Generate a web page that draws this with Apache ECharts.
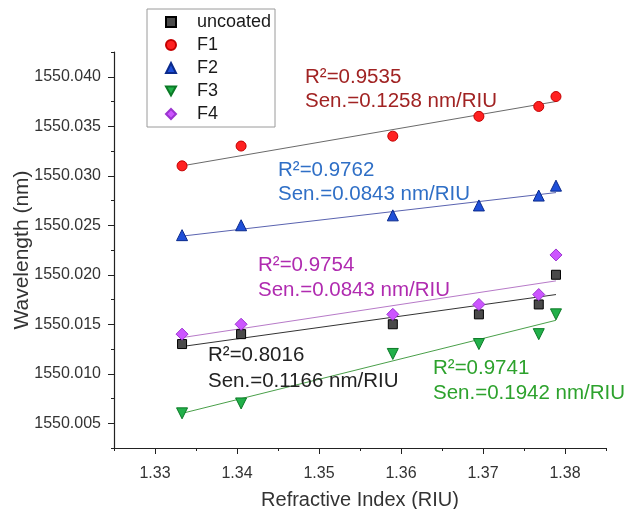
<!DOCTYPE html>
<html>
<head>
<meta charset="utf-8">
<script src="https://cdn.jsdelivr.net/npm/echarts@6/dist/echarts.min.js"></script>
<style>
  html, body { margin: 0; padding: 0; background: #fff; }
  #chart { width: 625px; height: 509px; }
</style>
</head>
<body>
<div id="chart"></div>
<script>
// refractive index of the test liquids (x)
const refIdx = [1.3333, 1.3405, 1.3590, 1.3695, 1.3768, 1.3789]

// resonance wavelength (nm)
const uncoated = [1550.013, 1550.014, 1550.015, 1550.016, 1550.017, 1550.020]
const f1 = [1550.031, 1550.033, 1550.034, 1550.036, 1550.037, 1550.038]
const f2 = [1550.024, 1550.025, 1550.026, 1550.027, 1550.028, 1550.029]
const f3 = [1550.006, 1550.007, 1550.012, 1550.013, 1550.014, 1550.016]
const f4 = [1550.014, 1550.015, 1550.016, 1550.017, 1550.018, 1550.022]

// linear fit lines, end points
const fitX = [1.3333, 1.3789]
const fitUncoated = [1550.01275, 1550.0180]
const fitF1 = [1550.0310, 1550.0375]
const fitF2 = [1550.0239, 1550.0283]
const fitF3 = [1550.0060, 1550.0154]
const fitF4 = [1550.01365, 1550.01938]

// tick labels
const xTicks = [1.33, 1.34, 1.35, 1.36, 1.37, 1.38]
const yTicks = [1550.005, 1550.010, 1550.015, 1550.020, 1550.025, 1550.030, 1550.035, 1550.040]

const FONT = 'Liberation Sans, Arial, sans-serif'

const chart = echarts.init(document.getElementById('chart'))

const pair = (xs, ys) => xs.map((x, i) => [x, ys[i]])

const scatter = (name, ys, symbol, size, fill, border, rotate) => ({
  name,
  type: 'scatter',
  data: pair(refIdx, ys),
  symbol,
  symbolSize: size,
  symbolRotate: rotate || 0,
  itemStyle: { color: fill, borderColor: border, borderWidth: 1, opacity: 1 },
  z: 3
})

const fit = (ys, color) => ({
  type: 'line',
  data: pair(fitX, ys),
  showSymbol: false,
  symbol: 'none',
  lineStyle: { color, width: 1 },
  silent: true,
  z: 2
})

const note = (x, y, lines, color) => lines.map((t, i) => ({
  type: 'text',
  x,
  y: y[i],
  style: { text: t, fill: color, font: '20.5px ' + FONT, verticalAlign: 'middle' },
  z: 10
}))

const baseX = {
  type: 'value',
  min: 1.325,
  max: 1.385,
  interval: 0.005,
  splitLine: { show: false }
}
const baseY = {
  type: 'value',
  min: 1550.0025,
  max: 1550.0425,
  interval: 0.0025,
  splitLine: { show: false }
}

const option = {
  animation: false,
  backgroundColor: '#fff',
  grid: { left: 114, right: 19, top: 52, bottom: 61, outerBoundsMode: 'none', containLabel: false },
  legend: {
    data: [
      'uncoated', 'F1', 'F2',
      { name: 'F3', icon: 'path://M0,0L10,0L5,9Z' },
      'F4'
    ],
    orient: 'vertical',
    left: 147,
    top: 9,
    padding: [4, 4, 3, 18],
    itemGap: 5,
    itemWidth: 10,
    itemHeight: 10,
    selectedMode: false,
    z: 6,
    textStyle: { fontSize: 18, color: '#1a1a1a', fontFamily: FONT, padding: [0, 0, 0, 16] }
  },
  xAxis: [
    {
      ...baseX,
      name: 'Refractive Index (RIU)',
      nameLocation: 'middle',
      nameGap: 42,
      nameMoveOverlap: false,
      nameTextStyle: { fontSize: 20, color: '#333', fontFamily: FONT },
      axisLine: { lineStyle: { color: '#222', width: 1.2 } },
      axisTick: { length: 3, lineStyle: { color: '#222' } },
      axisLabel: {
        customValues: xTicks,
        margin: 18,
        fontSize: 16,
        color: '#333',
        fontFamily: FONT,
        formatter: v => v.toFixed(2)
      }
    },
    {
      ...baseX,
      position: 'bottom',
      axisLine: { show: false },
      axisTick: { customValues: xTicks, length: 6, lineStyle: { color: '#222' } },
      axisLabel: { show: false }
    }
  ],
  yAxis: [
    {
      ...baseY,
      name: 'Wavelength (nm)',
      nameLocation: 'middle',
      nameGap: 81,
      nameMoveOverlap: false,
      nameTextStyle: { fontSize: 21, color: '#333', fontFamily: FONT },
      axisLine: { lineStyle: { color: '#222', width: 1.2 } },
      axisTick: { length: 3, lineStyle: { color: '#222' } },
      axisLabel: {
        customValues: yTicks,
        margin: 13,
        fontSize: 16,
        color: '#333',
        fontFamily: FONT,
        formatter: v => v.toFixed(3)
      }
    },
    {
      ...baseY,
      position: 'left',
      axisLine: { show: false },
      axisTick: { customValues: yTicks, length: 6, lineStyle: { color: '#222' } },
      axisLabel: { show: false }
    }
  ],
  series: [
    fit(fitUncoated, '#333333'),
    fit(fitF1, '#6a6a6a'),
    fit(fitF2, '#5a63b0'),
    fit(fitF3, '#4aa04a'),
    fit(fitF4, '#b77ac8'),
    scatter('uncoated', uncoated, 'rect', 9, '#4a4a4a', '#000000'),
    scatter('F1', f1, 'circle', 10, '#ff2121', '#c40000'),
    scatter('F2', f2, 'triangle', 11, '#1f4fd8', '#0a2a8c'),
    scatter('F3', f3, 'triangle', 11, '#22b04a', '#0b7a26', 180),
    scatter('F4', f4, 'diamond', 12, '#cc55ff', '#9b35d0')
  ],
  graphic: [
    // legend frame
    {
      type: 'rect',
      shape: { x: 147, y: 9, width: 128, height: 118 },
      style: { fill: '#fff', stroke: '#9a9a9a', lineWidth: 1 },
      z: 1
    },
    ...note(305, [77, 101], ['R²=0.9535', 'Sen.=0.1258 nm/RIU'], '#a12323'),
    ...note(278, [170, 194], ['R²=0.9762', 'Sen.=0.0843 nm/RIU'], '#2f6fc6'),
    ...note(258, [265, 290], ['R²=0.9754', 'Sen.=0.0843 nm/RIU'], '#b02bb0'),
    ...note(208, [355, 381], ['R²=0.8016', 'Sen.=0.1166 nm/RIU'], '#222222'),
    ...note(433, [368, 393], ['R²=0.9741', 'Sen.=0.1942 nm/RIU'], '#2da22d')
  ]
}

chart.setOption(option)
</script>
</body>
</html>
